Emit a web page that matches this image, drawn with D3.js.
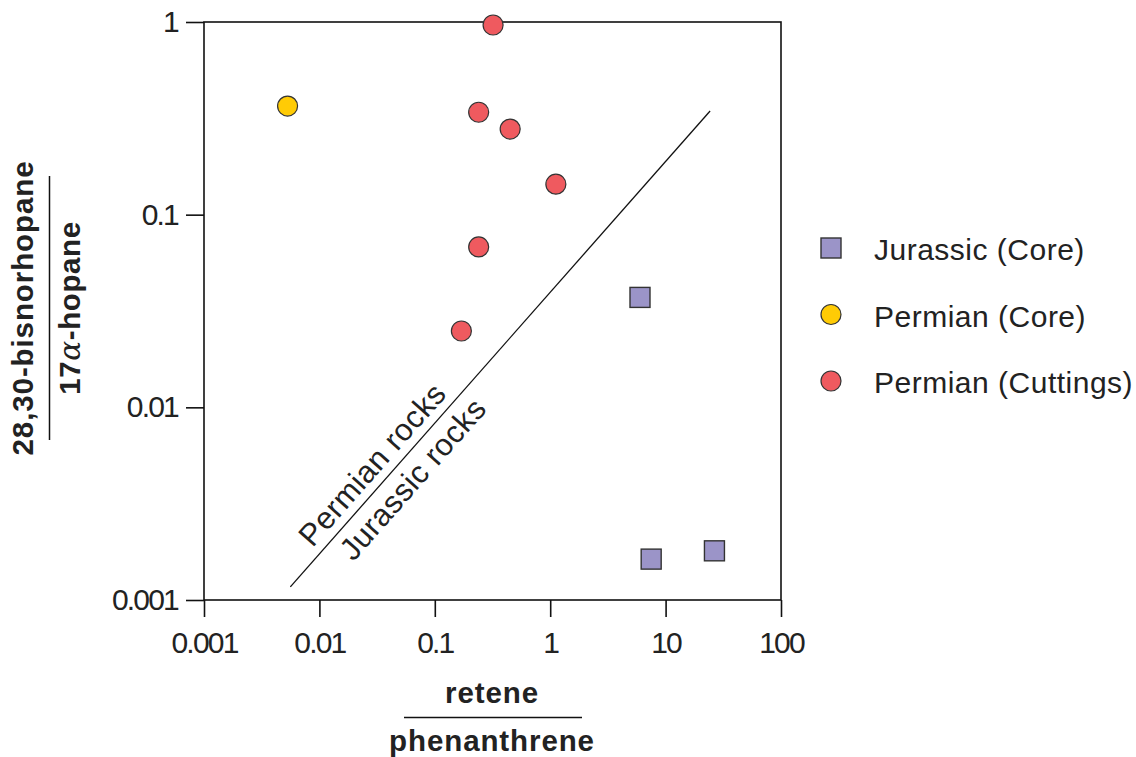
<!DOCTYPE html>
<html>
<head>
<meta charset="utf-8">
<script src="https://cdn.jsdelivr.net/npm/d3@7"></script>
<style>
  html, body { margin: 0; padding: 0; background: #fff; }
  svg { display: block; font-family: "Liberation Sans", Arial, Helvetica, sans-serif; }
</style>
</head>
<body>
<svg id="chart" width="1136" height="757"></svg>
<script>
// retene/phenanthrene (x) vs 28,30-bisnorhopane/17α-hopane (y)
const jurassicCore = [
  { x: 6.0,  y: 0.0372 },
  { x: 7.5,  y: 0.00163 },
  { x: 26.5, y: 0.0018 }
];
const permianCore = [
  { x: 0.0053, y: 0.366 }
];
const permianCuttings = [
  { x: 0.32, y: 0.965 },
  { x: 0.24, y: 0.34 },
  { x: 0.45, y: 0.278 },
  { x: 1.12, y: 0.144 },
  { x: 0.24, y: 0.068 },
  { x: 0.17, y: 0.0249 }
];
// boundary separating the two source-rock fields
const divider = [
  { x: 0.0056, y: 0.00117 },
  { x: 24.3,   y: 0.345 }
];
const xTicks = [0.001, 0.01, 0.1, 1, 10, 100];
const yTicks = [0.001, 0.01, 0.1, 1];
const xTickLabels = ["0.001", "0.01", "0.1", "1", "10", "100"];
const yTickLabels = ["0.001", "0.01", "0.1", "1"];
const legendItems = [
  { label: "Jurassic (Core)",     shape: "square", color: "#9b94c8" },
  { label: "Permian (Core)",      shape: "circle", color: "#ffcb05" },
  { label: "Permian (Cuttings)",  shape: "circle", color: "#ef5a5f" }
];

const svg = d3.select("#chart");
const plotLeft = 204, plotRight = 781, plotTop = 22, plotBottom = 600;

const x = d3.scaleLog().domain([0.001, 100]).range([plotLeft, plotRight]);
const y = d3.scaleLog().domain([0.001, 1]).range([plotBottom, plotTop]);

const markStroke = "#333";

// frame
svg.append("rect")
  .attr("x", plotLeft).attr("y", plotTop)
  .attr("width", plotRight - plotLeft).attr("height", plotBottom - plotTop)
  .attr("fill", "none").attr("stroke", "#111").attr("stroke-width", 1.6);

// x axis
const xAxis = svg.append("g")
  .attr("transform", `translate(0,${plotBottom})`)
  .call(d3.axisBottom(x).tickValues(xTicks)
    .tickFormat((d, i) => xTickLabels[i]).tickSize(17).tickPadding(15));
xAxis.select(".domain").remove();
xAxis.selectAll("line").attr("stroke", "#111").attr("stroke-width", 1.6);
xAxis.selectAll("text")
  .attr("font-size", 30).attr("fill", "#222")
  .attr("letter-spacing", -1.8)
  .attr("font-family", "'Liberation Sans', Arial, sans-serif");

// y axis
const yAxis = svg.append("g")
  .attr("transform", `translate(${plotLeft},0)`)
  .call(d3.axisLeft(y).tickValues(yTicks)
    .tickFormat((d, i) => yTickLabels[i]).tickSize(18).tickPadding(8));
yAxis.select(".domain").remove();
yAxis.selectAll("line").attr("stroke", "#111").attr("stroke-width", 1.6);
yAxis.selectAll("text")
  .attr("font-size", 30).attr("fill", "#222")
  .attr("letter-spacing", -1.8)
  .attr("font-family", "'Liberation Sans', Arial, sans-serif");

// divider line
const line = d3.line().x(d => x(d.x)).y(d => y(d.y));
svg.append("path")
  .datum(divider)
  .attr("d", line)
  .attr("fill", "none").attr("stroke", "#111").attr("stroke-width", 1.3);

// field labels along the divider
const p0 = [x(divider[0].x), y(divider[0].y)];
const p1 = [x(divider[1].x), y(divider[1].y)];
const len = Math.hypot(p1[0] - p0[0], p1[1] - p0[1]);
const ux = (p1[0] - p0[0]) / len, uy = (p1[1] - p0[1]) / len;
const nx = uy, ny = -ux; // normal pointing up-left
const angle = Math.atan2(p1[1] - p0[1], p1[0] - p0[0]) * 180 / Math.PI;
const fieldLabels = [
  { text: "Permian rocks",  along: 146, offset: 9 },
  { text: "Jurassic rocks", along: 162, offset: -31 }
];
svg.selectAll("text.field")
  .data(fieldLabels)
  .join("text")
  .attr("class", "field")
  .attr("transform", d => {
    const cx = p0[0] + ux * d.along + nx * d.offset;
    const cy = p0[1] + uy * d.along + ny * d.offset;
    return `translate(${cx},${cy}) rotate(${angle})`;
  })
  .attr("text-anchor", "middle")
  .attr("font-size", 31).attr("fill", "#222")
  .attr("letter-spacing", 0.5)
  .text(d => d.text);

// data marks
const sq = 20, r = 10;
svg.selectAll("rect.jur")
  .data(jurassicCore)
  .join("rect")
  .attr("class", "jur")
  .attr("x", d => x(d.x) - sq / 2).attr("y", d => y(d.y) - sq / 2)
  .attr("width", sq).attr("height", sq)
  .attr("fill", legendItems[0].color).attr("stroke", markStroke).attr("stroke-width", 1.4);

svg.selectAll("circle.pcore")
  .data(permianCore)
  .join("circle")
  .attr("class", "pcore")
  .attr("cx", d => x(d.x)).attr("cy", d => y(d.y)).attr("r", r)
  .attr("fill", legendItems[1].color).attr("stroke", markStroke).attr("stroke-width", 1.2);

svg.selectAll("circle.pcut")
  .data(permianCuttings)
  .join("circle")
  .attr("class", "pcut")
  .attr("cx", d => x(d.x)).attr("cy", d => y(d.y)).attr("r", r)
  .attr("fill", legendItems[2].color).attr("stroke", markStroke).attr("stroke-width", 1.2);

// legend
const legend = svg.append("g").attr("transform", "translate(831,248)");
const rows = legend.selectAll("g")
  .data(legendItems)
  .join("g")
  .attr("transform", (d, i) => `translate(0,${i * 66.5})`);
rows.each(function(d) {
  const g = d3.select(this);
  if (d.shape === "square") {
    g.append("rect").attr("x", -sq / 2).attr("y", -sq / 2)
      .attr("width", sq).attr("height", sq)
      .attr("fill", d.color).attr("stroke", markStroke).attr("stroke-width", 1.4);
  } else {
    g.append("circle").attr("r", r)
      .attr("fill", d.color).attr("stroke", markStroke).attr("stroke-width", 1.2);
  }
  g.append("text")
    .attr("x", 43).attr("y", 12)
    .attr("font-size", 30).attr("fill", "#222")
    .attr("letter-spacing", 0.5)
    .text(d.label);
});

// x axis title as a fraction
const xt = svg.append("g").attr("transform", "translate(492,0)");
xt.append("text").attr("y", 703).attr("text-anchor", "middle")
  .attr("font-size", 29.5).attr("font-weight", "bold").attr("fill", "#222")
  .attr("letter-spacing", 0.9).text("retene");
xt.append("line").attr("x1", -88).attr("x2", 90).attr("y1", 717.5).attr("y2", 717.5)
  .attr("stroke", "#111").attr("stroke-width", 1.5);
xt.append("text").attr("y", 751).attr("text-anchor", "middle")
  .attr("font-size", 29.5).attr("font-weight", "bold").attr("fill", "#222")
  .attr("letter-spacing", 0.9).text("phenanthrene");

// y axis title as a fraction
const yt = svg.append("g").attr("transform", "translate(0,308) rotate(-90)");
yt.append("text").attr("y", 33).attr("text-anchor", "middle")
  .attr("font-size", 29.5).attr("font-weight", "bold").attr("fill", "#222")
  .attr("letter-spacing", 0.9).text("28,30-bisnorhopane");
yt.append("line").attr("x1", -132).attr("x2", 132).attr("y1", 49.5).attr("y2", 49.5)
  .attr("stroke", "#111").attr("stroke-width", 1.5);
const yDen = yt.append("text").attr("y", 80).attr("text-anchor", "middle")
  .attr("font-size", 29.5).attr("font-weight", "bold").attr("fill", "#222")
  .attr("letter-spacing", 0.6);
yDen.append("tspan").text("17");
yDen.append("tspan").attr("font-style", "italic").attr("font-weight", "normal")
  .attr("font-family", "'DejaVu Serif', 'Liberation Serif', serif").text("α");
yDen.append("tspan").text("-hopane");
</script>
</body>
</html>
